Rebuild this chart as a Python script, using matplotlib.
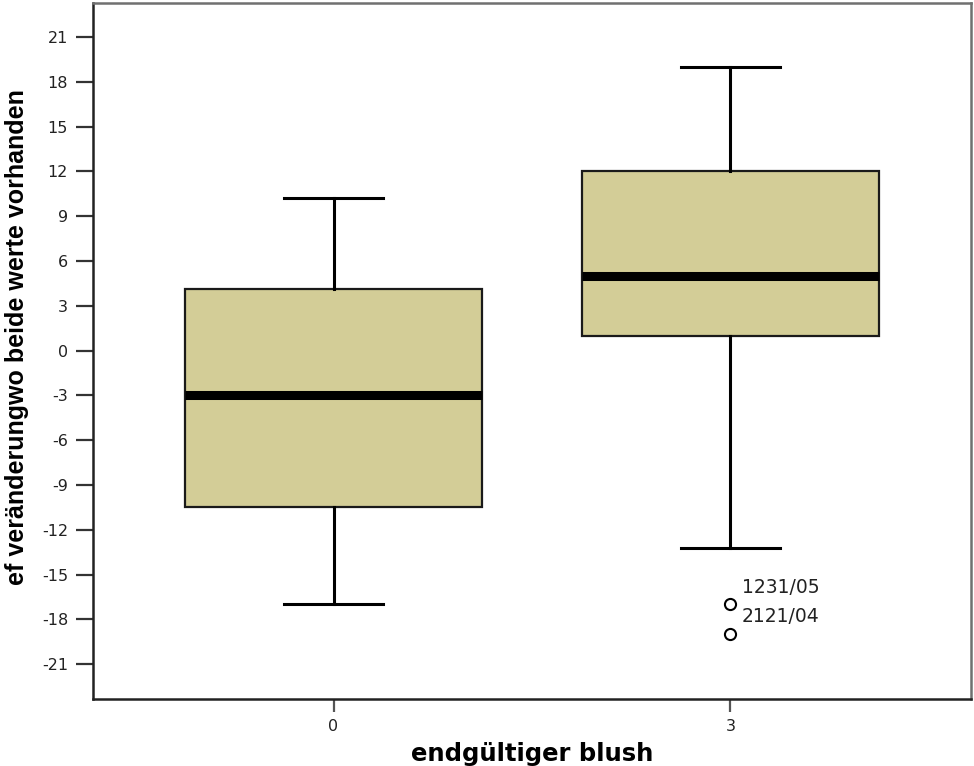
import matplotlib
matplotlib.use("Agg")
import matplotlib.pyplot as plt

# Kennwerte je Gruppe (endgültiger blush)
gruppen = ["0", "3"]
q1 = [-10.5, 1.0]
median = [-3.0, 5.0]
q3 = [4.1, 12.0]
whisker_unten = [-17.0, -13.2]
whisker_oben = [10.2, 19.0]
ausreisser = [[], [-17.0, -19.0]]
ausreisser_labels = [[], ["1231/05", "2121/04"]]

yticks = list(range(-21, 22, 3))

fig = plt.figure(figsize=(9.74, 7.66), dpi=100)
ax = fig.add_axes([0.0955, 0.0871, 0.9014, 0.9094])

stats = []
for i, g in enumerate(gruppen):
    stats.append(dict(label=g, med=median[i], q1=q1[i], q3=q3[i],
                      whislo=whisker_unten[i], whishi=whisker_oben[i],
                      fliers=ausreisser[i]))

ax.bxp(stats, positions=range(len(gruppen)), widths=0.75, patch_artist=True,
       boxprops=dict(facecolor="#d3cd97", edgecolor="#1a1a1a", linewidth=1.6),
       medianprops=dict(color="black", linewidth=6.5, solid_capstyle="butt"),
       whiskerprops=dict(color="black", linewidth=2.2),
       capprops=dict(color="black", linewidth=2.2),
       capwidths=0.25,
       flierprops=dict(marker="o", markersize=8, markerfacecolor="none",
                       markeredgecolor="black", markeredgewidth=1.5))

# Fallnummern neben den Ausreißern
for i, werte in enumerate(ausreisser):
    for v, lab in zip(werte, ausreisser_labels[i]):
        ax.annotate(lab, (i, v), xytext=(8, 12.5), textcoords="offset points",
                    fontsize=13.5, family="DejaVu Sans", color="#222222",
                    va="center", ha="left")

ax.set_xlim(-0.606, 1.606)
ax.set_ylim(-23.35, 23.3)
ax.set_yticks(yticks)
ax.set_yticklabels([str(t) for t in yticks])
ax.set_xticks(range(len(gruppen)))
ax.set_xticklabels(gruppen)

for side in ["left", "bottom"]:
    ax.spines[side].set_color("#222222")
    ax.spines[side].set_linewidth(1.8)
for side in ["top", "right"]:
    ax.spines[side].set_color("#707070")
    ax.spines[side].set_linewidth(1.8)

ax.tick_params(axis="y", length=12, width=1.6, color="#333333",
               labelsize=11.5, labelcolor="#222222", pad=6)
ax.tick_params(axis="x", length=9, width=1.6, color="#555555",
               labelsize=11.5, labelcolor="#222222", pad=5)
for lab in ax.get_xticklabels() + ax.get_yticklabels():
    lab.set_family("DejaVu Sans")

ax.set_ylabel("ef veränderungwo beide werte vorhanden", fontsize=18,
              fontweight="bold", family="Liberation Sans")
ax.yaxis.set_label_coords(-0.073, 0.52)
ax.set_xlabel("endgültiger blush", fontsize=17.5, fontweight="bold",
              family="DejaVu Sans")
ax.xaxis.set_label_coords(0.5, -0.061)

fig.savefig("out.png", dpi=100)
